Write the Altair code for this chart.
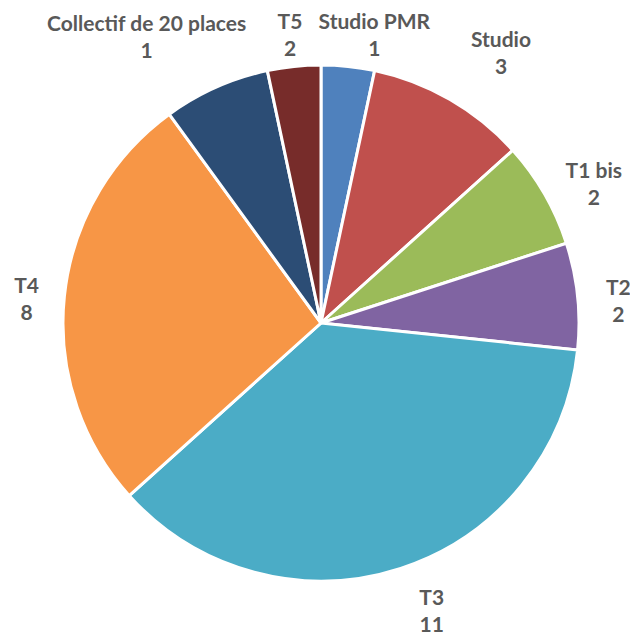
import altair as alt
import pandas as pd

categories = ["Studio PMR", "Studio", "T1 bis", "T2", "T3", "T4", "T5", "Collectif de 20 places"]
values = [1, 3, 2, 2, 11, 8, 2, 1]
colors = ["#4F81BD", "#C0504D", "#9BBB59", "#8064A2", "#4BACC6", "#F79646", "#2C4D75", "#772C2A"]

df = pd.DataFrame({"cat": categories, "value": values, "idx": list(range(len(categories)))})
df["label"] = df["cat"] + "\n" + df["value"].astype(str)

# label layout tweaks (pixel offsets from slice mid-angle)
label_offsets = {
    "Studio PMR": (22, -2),
    "Studio": (30, -22),
    "T1 bis": (13, -1),
    "T2": (-1, -3),
    "T3": (18, -9),
    "T4": (4, -5),
    "T5": (91, -26),
    "Collectif de 20 places": (-143, 0),
}

base = alt.Chart(df).encode(
    theta=alt.Theta("value:Q", stack=True),
    order=alt.Order("idx:Q"),
)

pie = base.mark_arc(outerRadius=258, stroke="white", strokeWidth=3).encode(
    color=alt.Color("cat:N", scale=alt.Scale(domain=categories, range=colors), legend=None)
)

layers = [pie]
for c in categories:
    dx, dy = label_offsets[c]
    layers.append(
        base.mark_text(
            radius=300, dx=dx, dy=dy, font="Lato", fontWeight="bold", fontSize=21,
            color="#595959", lineBreak="\n", lineHeight=27, align="center", baseline="middle",
        ).encode(
            text=alt.condition(alt.datum.cat == c, "label:N", alt.value("")),
        )
    )

chart = alt.layer(*layers).properties(
    width=618, height=626,
    autosize=alt.AutoSizeParams(type="none"),
    padding={"left": 4, "top": 2, "right": 0, "bottom": 0},
).configure_view(stroke=None)

chart.save("out.html", embed_options={"renderer": "svg", "actions": False})
